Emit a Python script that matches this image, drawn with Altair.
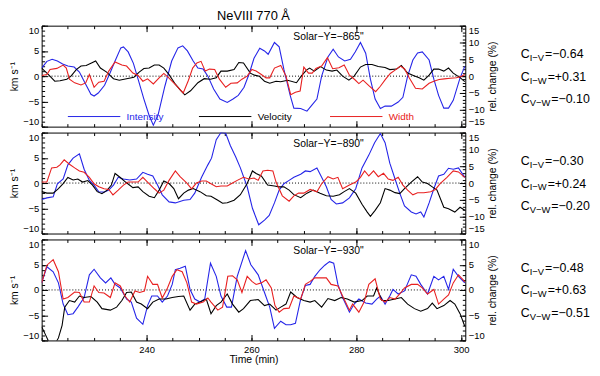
import altair as alt
import pandas as pd

FONT = "Liberation Sans"
BLUE = "#2525e8"
RED = "#e82020"
BLACK = "#000000"

T_MIN, T_MAX = 220.0, 300.8
W, H = 428, 102

solar_y = ["Solar−Y=−865\"", "Solar−Y=−890\"", "Solar−Y=−930\""]
right_limit = [15, 15, 10]
corr_labels = ["I−V", "I−W", "V−W"]
corr_values = [["−0.64", "+0.31", "−0.10"],
               ["−0.30", "+0.24", "−0.20"],
               ["−0.48", "+0.63", "−0.51"]]

legend_names = ["Intensity", "Velocity", "Width"]
legend_colors = [BLUE, BLACK, RED]
legend_start = [225, 250, 275]
legend_end = [235, 260, 285]
legend_level = -8

x_label_values = [240, 260, 280, 300]
x_minor_values = list(range(220, 301, 5))

# ---- Panel 1 (Solar-Y = -865") : (time [min], value) ----
p1_intensity = [(220.0, 2.4), (221.0, 4.4), (222.0, 5.0), (223.0, 4.5), (224.0, 3.6), (225.0, 3.0),
    (226.2, 2.7), (227.2, 1.2), (228.2, -1.8), (229.4, -5.4), (230.0, -5.9), (230.8, -5.0),
    (232.0, -2.7), (233.0, 0.8), (234.0, 4.5), (235.1, 8.4), (235.6, 8.7), (236.5, 7.2),
    (237.5, 3.8), (238.5, -1.5), (239.5, -6.8), (240.5, -11.7), (241.3, -14.6), (242.2, -11.6),
    (243.5, -3.0), (244.8, 4.5), (246.0, 8.4), (246.9, 9.0), (247.8, 7.5), (248.9, 4.5),
    (249.8, 2.4), (250.8, 2.1), (251.7, 0.0), (252.8, -3.8), (254.0, -6.8), (255.4, -7.8),
    (256.5, -6.8), (257.5, -5.7), (258.6, -3.3), (259.6, 0.8), (260.5, 5.3), (261.6, 8.3),
    (262.5, 7.5), (263.2, 6.5), (264.4, 10.0), (265.3, 8.7), (266.2, 2.0), (267.4, -5.7),
    (268.1, -9.5), (269.4, -9.6), (270.6, -10.4), (271.5, -8.7), (272.5, -6.8), (273.4, 0.0),
    (274.6, 5.7), (275.6, 8.0), (276.6, 5.7), (277.8, 4.5), (278.9, 5.0), (279.8, 7.2),
    (280.8, 10.0), (281.8, 6.8), (282.7, -0.9), (283.6, -6.8), (284.6, -9.6), (285.5, -8.9),
    (286.7, -8.9), (288.0, -7.7), (288.9, -6.3), (289.8, 0.0), (290.8, 4.8), (291.7, 6.9),
    (292.6, 7.2), (293.9, 4.8), (294.8, -0.9), (295.7, -5.7), (296.7, -9.5), (297.6, -9.5),
    (298.5, -7.2), (299.8, -0.5), (300.7, 2.9)]
p1_velocity = [(220.0, 1.6), (221.3, 0.3), (222.5, -1.0), (223.5, -0.9), (224.8, -0.6), (225.6, 0.0),
    (226.6, 1.3), (227.5, 2.0), (228.5, 2.1), (229.5, 2.6), (230.3, 3.0), (231.2, 1.6),
    (232.4, 0.8), (233.7, -0.5), (234.8, -0.8), (236.2, -0.5), (237.6, -0.2), (238.6, 0.8),
    (239.5, 1.5), (240.5, 1.6), (241.5, 2.2), (242.4, 2.2), (243.3, 1.6), (244.3, 0.3),
    (245.5, -1.6), (246.5, -2.8), (247.3, -3.7), (248.4, -2.9), (249.8, -1.3), (251.0, -0.5),
    (252.2, -0.6), (253.3, -0.3), (254.2, 1.0), (255.4, 1.0), (256.7, 1.3), (257.6, 2.7),
    (258.5, 2.6), (259.8, 0.6), (260.6, 0.2), (261.5, 0.0), (262.5, -1.0), (263.5, -1.4),
    (264.7, -1.0), (265.6, -1.1), (266.9, -0.8), (268.6, -1.3), (269.5, 0.0), (270.5, 1.2),
    (271.1, 1.6), (272.0, 1.0), (273.2, 1.9), (274.3, 1.2), (275.4, 1.0), (276.3, 1.2),
    (277.4, 0.0), (278.6, -0.8), (279.6, 0.0), (280.8, 1.8), (281.8, 2.3), (283.0, 2.3),
    (284.2, 1.9), (285.5, 1.7), (286.4, 1.3), (287.7, 1.4), (288.6, 2.1), (289.8, 0.6),
    (291.0, 0.1), (292.0, -0.3), (292.9, -0.8), (293.9, 0.2), (294.8, 1.4), (295.7, 1.4),
    (296.7, 1.0), (297.6, 1.6), (298.5, 0.6), (299.8, -0.3), (300.7, -1.1)]
p1_width = [(220.0, 0.2), (221.0, 0.5), (221.6, 2.0), (222.9, 2.3), (224.1, 3.3), (224.7, 2.4),
    (225.3, -0.9), (226.3, -2.0), (227.5, -2.6), (228.4, -2.0), (229.1, 0.5), (230.0, -3.3),
    (230.9, -1.8), (231.9, -1.5), (232.8, 1.5), (234.0, 4.2), (235.3, 3.3), (236.2, 3.0),
    (237.4, 0.9), (238.4, 0.2), (239.3, -1.5), (240.2, -0.8), (241.3, -2.3), (242.4, -0.5),
    (243.3, 0.8), (244.3, -0.6), (245.6, -2.7), (247.0, -5.0), (248.0, -1.2), (248.8, 2.4),
    (249.6, 3.9), (250.4, 4.4), (251.2, 1.5), (252.0, 2.1), (253.0, 2.0), (253.9, -0.9),
    (255.1, -3.3), (256.1, -2.1), (257.3, -2.0), (258.2, -0.9), (259.2, 0.0), (260.1, 2.0),
    (260.9, 1.5), (261.9, 0.5), (262.8, -0.5), (263.5, -0.5), (264.4, 2.4), (265.6, 3.2),
    (266.6, 0.0), (267.5, -5.5), (268.4, -4.8), (269.3, -4.4), (270.0, 2.7), (270.9, 0.9),
    (271.6, 0.9), (272.3, 2.3), (273.4, 3.0), (274.5, 5.5), (275.5, 2.2), (276.7, 2.5),
    (277.7, 3.3), (278.7, 0.3), (279.7, -1.0), (280.5, -2.2), (281.3, -1.2), (282.4, -2.8),
    (283.7, -4.6), (284.6, -3.0), (285.6, -0.9), (286.5, 0.8), (287.4, 1.8), (288.4, 3.0),
    (289.2, 2.2), (290.1, -0.5), (291.3, -3.6), (292.6, -3.8), (293.9, -2.1), (294.8, -1.5),
    (295.8, -1.0), (296.8, -0.8), (297.9, -0.6), (299.1, -0.5), (300.1, 0.0), (300.7, 0.5)]

# ---- Panel 2 (Solar-Y = -890") ----
p2_intensity = [(220.0, -4.9), (221.0, -4.4), (222.2, -4.1), (223.0, -0.2), (224.1, 1.2), (225.0, 5.4),
    (226.0, 7.4), (227.2, 8.7), (228.1, 4.1), (229.1, 0.8), (230.0, -0.6), (230.9, -2.6),
    (231.9, -2.7), (232.8, -2.1), (233.7, -0.6), (234.6, 1.7), (235.6, 1.2), (236.8, 0.9),
    (238.1, 1.2), (239.3, 3.2), (240.2, 2.6), (241.2, 2.1), (242.1, -0.6), (243.0, -3.5),
    (244.3, -5.6), (245.5, -5.9), (247.1, -5.1), (248.3, -4.9), (249.2, -3.0), (250.5, 1.7),
    (251.7, 5.4), (252.4, 7.4), (253.3, 12.9), (254.2, 15.0), (255.1, 14.8), (256.0, 11.1),
    (257.0, 7.8), (257.9, 4.5), (259.2, -1.1), (260.2, -7.5), (261.4, -12.4), (262.5, -11.0),
    (263.4, -9.6), (264.4, -5.9), (265.3, -2.1), (266.2, -0.2), (267.2, 0.8), (268.1, 1.7),
    (269.4, 2.6), (270.3, 3.6), (271.2, 3.4), (272.5, 4.5), (273.4, 1.7), (274.3, -1.1),
    (275.2, -4.9), (276.2, -6.2), (277.4, -5.9), (278.7, -4.4), (279.9, -1.7), (281.1, 4.5),
    (282.4, 8.3), (283.5, 12.0), (284.6, 14.7), (285.5, 12.0), (286.4, 5.9), (287.4, 1.2),
    (288.3, -3.0), (289.2, -6.8), (290.5, -8.6), (291.4, -9.2), (292.3, -8.6), (292.9, -10.1),
    (293.9, -5.9), (294.8, -1.7), (295.7, 2.1), (296.7, 2.6), (297.6, 4.4), (298.5, 4.1),
    (299.5, 4.5), (300.7, 1.7)]
p2_velocity = [(220.0, -1.7), (221.0, -2.0), (222.2, -2.0), (223.2, -1.1), (224.1, -0.1), (225.0, 1.1),
    (226.0, 0.6), (226.9, 0.8), (227.8, 0.2), (228.8, 0.5), (229.7, -0.4), (230.6, -1.7),
    (231.5, -2.1), (232.5, -1.4), (233.3, -0.4), (234.0, 1.9), (235.0, 1.1), (236.0, 0.2),
    (237.4, -0.9), (238.4, -0.75), (239.3, -1.7), (240.5, -2.6), (241.5, -2.9), (242.4, -1.4),
    (243.3, 0.4), (244.3, -0.1), (245.2, -1.1), (246.1, -3.1), (247.1, -2.0), (248.0, -1.4),
    (248.9, -1.1), (250.2, -1.7), (251.4, -2.5), (252.3, -2.6), (253.6, -3.4), (254.5, -4.0),
    (255.4, -3.9), (256.7, -3.4), (257.9, -2.3), (259.2, -0.1), (260.2, 2.4), (260.9, 1.9),
    (261.9, 1.4), (263.1, -0.4), (264.4, -0.6), (265.3, -0.75), (266.2, -0.75), (267.2, -1.4),
    (268.1, -2.3), (269.4, -2.9), (270.6, -2.0), (271.8, -1.4), (273.1, -2.0), (274.3, -2.5),
    (275.6, -2.6), (276.8, -2.3), (277.7, -1.7), (278.7, -1.1), (279.9, -2.0), (281.1, -4.2),
    (282.1, -5.75), (282.7, -6.6), (283.6, -5.4), (284.6, -3.9), (285.5, -1.1), (286.4, -1.4),
    (287.4, -1.9), (288.3, -2.1), (289.2, -1.1), (290.5, 0.2), (291.7, 1.25), (292.6, 0.2),
    (293.6, -0.1), (294.5, -0.75), (295.4, -1.4), (296.7, -4.8), (297.6, -5.1), (298.8, -5.75),
    (299.8, -4.8), (300.7, -5.4)]
p2_width = [(220.0, 0.3), (221.0, 0.3), (221.9, 4.5), (222.9, 4.7), (223.5, 5.4), (224.3, 6.9),
    (225.3, 5.6), (226.3, 4.5), (227.2, 3.6), (228.1, 3.2), (229.1, 1.7), (230.0, -0.2),
    (230.9, -1.1), (231.9, -1.7), (232.8, -1.9), (233.6, -3.5), (234.6, -2.1), (235.6, -0.6),
    (236.5, 0.3), (237.4, 0.3), (238.4, 0.3), (239.3, 1.7), (240.2, 0.3), (241.5, -1.7),
    (242.4, -3.0), (243.3, -2.1), (244.3, 0.8), (245.5, 3.6), (246.4, 1.9), (247.7, 0.0),
    (248.6, -1.7), (249.5, 0.0), (250.5, 0.6), (251.4, 0.6), (252.3, -0.2), (253.3, -1.1),
    (254.2, -0.9), (255.4, -0.9), (256.4, 0.0), (257.3, 0.8), (258.5, 1.7), (259.5, 1.2),
    (260.5, 1.5), (261.3, 0.8), (262.2, 3.6), (263.1, 3.8), (264.1, 3.6), (264.7, 0.3),
    (265.9, -3.8), (267.2, -5.4), (268.1, -3.8), (269.0, -3.0), (270.0, -3.0), (271.2, -1.9),
    (272.5, -2.6), (273.4, -0.2), (274.6, 1.9), (275.6, 1.2), (276.5, 1.7), (277.4, -1.7),
    (278.7, -0.6), (279.9, 0.3), (280.8, 1.7), (281.6, 3.6), (282.4, 2.1), (283.3, 3.6),
    (284.2, 1.9), (285.2, 2.9), (286.1, 1.2), (287.0, 0.8), (288.0, 1.7), (288.9, -0.6),
    (289.8, -2.1), (290.8, -3.5), (291.7, -2.9), (292.9, -2.9), (294.2, -2.6), (295.1, -1.9),
    (296.0, -0.2), (297.3, 1.7), (298.5, 3.6), (299.5, 3.3), (300.7, 1.7)]

# ---- Panel 3 (Solar-Y = -930") ----
p3_intensity = [(220.0, 1.4), (221.0, 4.6), (222.2, 3.6), (223.2, 1.4), (224.1, -2.8), (225.0, -4.9),
    (226.0, -4.7), (226.9, -3.4), (228.1, -1.5), (229.1, 3.0), (230.0, 4.1), (231.2, 2.4),
    (232.2, 1.4), (233.2, 2.4), (234.0, 1.1), (235.0, 0.4), (236.2, -1.8), (237.1, -2.4),
    (238.1, -5.6), (239.3, -6.8), (240.2, -3.1), (241.0, -1.2), (242.1, -1.2), (243.0, -2.4),
    (244.0, -1.2), (244.9, 1.1), (245.5, 4.0), (246.4, 4.3), (247.4, 4.7), (248.3, 0.1),
    (249.2, -1.8), (250.2, -2.4), (251.1, -1.8), (252.2, 5.3), (253.3, 2.7), (254.2, -1.2),
    (255.3, -3.4), (256.2, -3.4), (257.3, 2.7), (258.9, 7.8), (259.9, 5.0), (261.3, 3.0),
    (262.5, -0.5), (263.5, -3.4), (264.4, -7.6), (265.6, -6.2), (266.6, -6.9), (267.5, -6.9),
    (268.4, -6.6), (269.4, -1.8), (270.3, 0.9), (271.2, 1.1), (272.1, 2.7), (273.1, 4.0),
    (274.0, 4.9), (274.9, 5.6), (275.7, 5.3), (276.5, 1.1), (277.4, -1.5), (278.7, -4.4),
    (279.6, -2.8), (280.5, -1.8), (281.8, -2.6), (283.0, -2.8), (283.9, -1.8), (284.6, -1.2),
    (285.5, -2.8), (286.4, -1.2), (287.0, 0.1), (288.0, -0.8), (289.2, -0.2), (290.5, 3.0),
    (291.4, 2.7), (292.3, 1.1), (293.6, -0.8), (294.8, 2.7), (295.7, 2.0), (296.7, 2.7),
    (297.6, 0.1), (298.5, 4.1), (299.5, 2.7), (300.7, 1.4)]
p3_velocity = [(220.0, -7.3), (220.7, -8.8), (221.6, -10.8), (222.4, -11.0), (223.2, -9.5), (223.9, -7.0),
    (224.4, -3.4), (225.3, -2.1), (226.3, -2.4), (227.2, -1.2), (228.1, -1.5), (229.4, -1.3),
    (230.6, -2.4), (231.5, -3.7), (233.1, -4.0), (234.3, -3.4), (235.3, -2.1), (236.2, -0.5),
    (237.1, -0.4), (238.1, -2.4), (239.0, -2.8), (240.2, -3.7), (241.2, -2.4), (242.4, -1.8),
    (243.7, -1.8), (244.9, -1.5), (246.1, -1.3), (247.1, -1.2), (248.3, -4.0), (249.2, -2.8),
    (250.2, -2.4), (251.4, -1.8), (252.3, -4.7), (253.3, -3.1), (254.2, -2.4), (255.4, -0.8),
    (256.4, -2.8), (257.6, -4.4), (258.5, -3.7), (259.8, -2.1), (261.3, -1.9), (262.5, -3.1),
    (263.5, -2.8), (264.7, -4.0), (265.6, -3.4), (266.6, -2.8), (267.5, -0.4), (268.7, -1.5),
    (270.0, -2.1), (271.2, -2.4), (272.1, -2.1), (273.4, -3.4), (274.6, -1.7), (275.9, -2.1),
    (277.1, -1.5), (278.3, -1.8), (279.6, -2.4), (281.1, -2.1), (282.1, -1.2), (283.3, -1.2),
    (283.9, 0.4), (284.9, -2.1), (286.1, -2.1), (287.4, -1.8), (288.6, -1.5), (289.8, -2.8),
    (291.1, -3.7), (292.3, -4.2), (293.6, -3.7), (294.5, -2.6), (295.4, -3.7), (296.7, -3.1),
    (297.9, -2.1), (298.8, -2.8), (299.8, -4.7), (300.7, -7.2)]
p3_width = [(220.0, 1.4), (221.0, 4.9), (222.2, 6.0), (223.2, 3.6), (224.1, -1.8), (225.0, -1.5),
    (226.3, -0.4), (227.2, -0.5), (228.1, -2.4), (229.1, -2.4), (230.0, 0.8), (230.9, -0.5),
    (231.9, -0.6), (233.1, -1.5), (234.0, 1.4), (235.0, 0.8), (235.9, -1.2), (236.8, -2.4),
    (237.8, -0.2), (238.7, -0.5), (239.6, -0.2), (240.2, 2.7), (241.2, 1.1), (242.1, 1.1),
    (243.0, -1.6), (244.0, 0.4), (244.9, 2.7), (245.8, 4.0), (246.8, 3.6), (247.7, 1.4),
    (248.6, -2.4), (249.5, -2.8), (250.8, -2.4), (251.7, -1.6), (252.3, -2.4), (253.6, -4.0),
    (254.5, -3.4), (255.5, 2.7), (256.4, 2.8), (257.3, 2.0), (258.2, -0.5), (259.2, 2.7),
    (260.1, 1.7), (260.9, 1.1), (261.9, 1.4), (262.8, 2.0), (263.8, 0.4), (264.5, -3.1),
    (265.3, -4.4), (266.2, -3.7), (267.2, -3.6), (268.1, -1.2), (269.4, -1.8), (270.3, 1.1),
    (271.2, 1.7), (272.1, 2.4), (273.1, 2.4), (274.3, 2.4), (275.2, 1.1), (276.5, 0.8),
    (277.4, -1.2), (278.7, -4.0), (279.3, -2.8), (280.5, -4.4), (281.5, -2.4), (282.4, 1.1),
    (283.6, 2.2), (284.6, -1.8), (285.5, -2.4), (286.4, -1.5), (287.4, -1.8), (288.3, -0.8),
    (289.2, 0.4), (290.5, 1.1), (291.7, 1.1), (292.6, 0.4), (293.6, -0.8), (294.8, 0.1),
    (295.7, -2.8), (296.7, -1.8), (297.6, -1.0), (298.5, 1.4), (299.5, 3.0), (300.4, 2.0),
    (300.7, 1.6)]

intensity_series = [p1_intensity, p2_intensity, p3_intensity]
velocity_series = [p1_velocity, p2_velocity, p3_velocity]
width_series = [p1_width, p2_width, p3_width]

MAJOR, MINOR = 6, 3
CHAR_W = {"I": 0.278, "V": 0.667, "W": 0.944, "−": 0.584}
C_SIZE, SUB_SIZE = 12.5, 9.5
C_X = 56


def xs():
    return alt.Scale(domain=[T_MIN, T_MAX], nice=False, zero=False)


def ys(lim):
    return alt.Scale(domain=[-lim, lim], nice=False, zero=False)


def frame(pairs):
    return pd.DataFrame(pairs, columns=["t", "v"])


def tick_axis(orient, values, size, **kw):
    opts = dict(orient=orient, values=values, tickSize=size, offset=-size,
                domain=False, labels=False, title=None, tickColor="black", tickWidth=1)
    opts.update(kw)
    return alt.Axis(**opts)


def make_panel(k):
    bottom = (k == 2)
    rlim = right_limit[k]
    vel = frame(velocity_series[k])
    inten = frame(intensity_series[k])
    wid = frame(width_series[k])

    # x axes (ticks drawn inward)
    if bottom:
        xb_major = tick_axis("bottom", x_label_values, MAJOR, labels=True, labelFlush=False,
                             labelPadding=4, title="Time (min)", titlePadding=1)
    else:
        xb_major = tick_axis("bottom", x_label_values, MAJOR)
    xb_minor = tick_axis("bottom", x_minor_values, MINOR)
    xt_major = tick_axis("top", x_label_values, MAJOR)
    xt_minor = tick_axis("top", x_minor_values, MINOR)
    # y axes (end labels kept inside the frame, as in the reference)
    yl_major = tick_axis("left", [-10, -5, 0, 5, 10], MAJOR, labels=True, labelPadding=3,
                         labelFlush=True, title="km s⁻¹", titlePadding=3)
    yl_minor = tick_axis("left", list(range(-10, 11)), MINOR)
    yr_major = tick_axis("right", list(range(-rlim, rlim + 1, 5)), MAJOR, labels=True,
                         labelPadding=3, labelFlush=True, title="rel. change (%)",
                         titlePadding=3, titleAngle=270, titleBaseline="top")
    yr_minor = tick_axis("right", list(range(-rlim, rlim + 1)), MINOR)

    blue = alt.Chart(inten).mark_line(color=BLUE, strokeWidth=1.1, clip=True).encode(
        x=alt.X("t:Q", scale=xs(), axis=xt_major),
        y=alt.Y("v:Q", scale=ys(rlim), axis=yr_major))
    black = alt.Chart(vel).mark_line(color=BLACK, strokeWidth=1.1, clip=True).encode(
        x=alt.X("t:Q", scale=xs(), axis=xb_major),
        y=alt.Y("v:Q", scale=ys(10), axis=yl_major))
    red = alt.Chart(wid).mark_line(color=RED, strokeWidth=1.1, clip=True).encode(
        x=alt.X("t:Q", scale=xs(), axis=xt_minor),
        y=alt.Y("v:Q", scale=ys(rlim), axis=yr_minor))
    ghost = alt.Chart(vel).mark_line(opacity=0).encode(
        x=alt.X("t:Q", scale=xs(), axis=xb_minor),
        y=alt.Y("v:Q", scale=ys(10), axis=yl_minor))

    zero = alt.Chart(pd.DataFrame({"z": [0]})).mark_rule(
        color="black", strokeDash=[1, 2], strokeWidth=1).encode(
        y=alt.Y("z:Q", scale=ys(10), axis=None))

    solar = alt.Chart(pd.DataFrame({"t": [268.0], "v": [7.8], "s": [solar_y[k]]})).mark_text(
        align="left", baseline="middle", font=FONT, fontSize=10.5, color="black").encode(
        x=alt.X("t:Q", scale=xs(), axis=None),
        y=alt.Y("v:Q", scale=ys(10), axis=None),
        text="s:N")

    # correlation coefficients to the right of the panel
    sub_w = [sum(CHAR_W[c] for c in lab) * SUB_SIZE for lab in corr_labels]
    cdf = pd.DataFrame({
        "row": [0, 1, 2],
        "c": ["C", "C", "C"],
        "sub": corr_labels,
        "val": ["=" + v for v in corr_values[k]],
        "vx": [C_X + 0.722 * C_SIZE + w + 1.0 for w in sub_w],
    })
    row_scale = alt.Scale(domain=[0, 2], range=[H / 2 - 22, H / 2 + 23])
    c_txt = alt.Chart(cdf).mark_text(align="left", baseline="middle", font=FONT,
                                     fontSize=C_SIZE, color="black").encode(
        x=alt.value(W + C_X), y=alt.Y("row:Q", scale=row_scale, axis=None), text="c:N")
    s_txt = alt.Chart(cdf).mark_text(align="left", baseline="middle", font=FONT,
                                     fontSize=SUB_SIZE, dy=4, color="black").encode(
        x=alt.value(W + C_X + 0.722 * C_SIZE),
        y=alt.Y("row:Q", scale=row_scale, axis=None), text="sub:N")
    v_txt = alt.Chart(cdf).mark_text(align="left", baseline="middle", font=FONT,
                                     fontSize=C_SIZE, color="black").encode(
        x=alt.X("vx:Q", scale=alt.Scale(domain=[0, 100], range=[W, W + 100]), axis=None),
        y=alt.Y("row:Q", scale=row_scale, axis=None), text="val:N")

    layers = [zero, blue, black, red, ghost, solar, c_txt, s_txt, v_txt]

    if k == 0:
        ldf = pd.DataFrame({"x1": legend_start, "x2": legend_end,
                            "y": [legend_level] * 3, "c": legend_colors,
                            "tx": [e + 1.2 for e in legend_end], "name": legend_names})
        lrule = alt.Chart(ldf).mark_rule(strokeWidth=1).encode(
            x=alt.X("x1:Q", scale=xs(), axis=None), x2="x2:Q",
            y=alt.Y("y:Q", scale=ys(10), axis=None),
            color=alt.Color("c:N", scale=None))
        ltext = alt.Chart(ldf).mark_text(align="left", baseline="middle", font=FONT,
                                         fontSize=10).encode(
            x=alt.X("tx:Q", scale=xs(), axis=None),
            y=alt.Y("y:Q", scale=ys(10), axis=None),
            text="name:N", color=alt.Color("c:N", scale=None))
        layers += [lrule, ltext]

    panel = alt.layer(*layers).resolve_scale(x="independent", y="independent").resolve_axis(
        x="independent", y="independent").properties(width=W, height=H)
    if k == 0:
        panel = panel.properties(title=alt.TitleParams(
            "NeVIII 770 Å", frame="group", anchor="middle", font=FONT, fontSize=13,
            fontWeight="normal", color="black", offset=2))
    return panel


chart = alt.vconcat(make_panel(0), make_panel(1), make_panel(2), spacing=6,
                    bounds="flush").properties(
    padding={"left": 1, "top": 0, "right": 1, "bottom": 0}
).configure_view(stroke="black", strokeWidth=1).configure_axis(
    grid=False, labelFont=FONT, titleFont=FONT, labelFontSize=9.5, titleFontSize=10.5,
    titleFontWeight="normal", labelColor="black", titleColor="black")

chart.save("out.html", embed_options={"renderer": "svg", "actions": False})
